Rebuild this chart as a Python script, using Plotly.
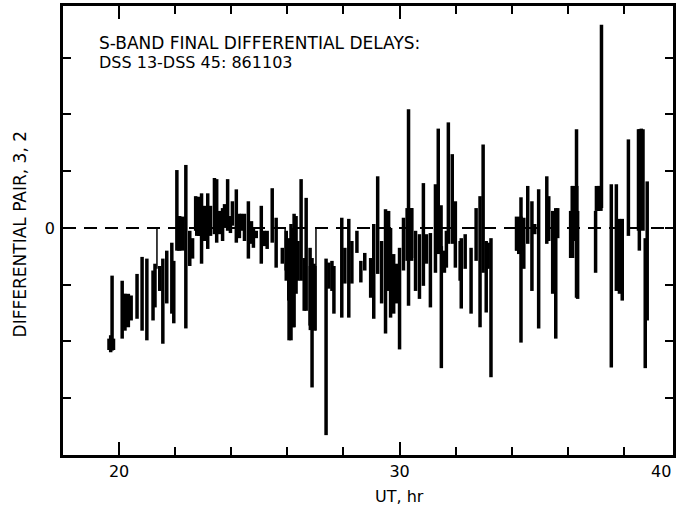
import plotly.graph_objects as go

# ---- data (UT hours, lower / upper end of each differential-delay bar) ----
ut = [19.75, 19.70, 20.11, 20.21, 20.32, 20.43, 20.64, 20.82, 20.99, 21.21,
      21.28, 21.45, 21.56, 21.70, 21.88, 21.95, 22.06, 22.16, 22.23, 22.38,
      22.52, 22.62, 22.73, 22.84, 22.94, 23.05, 23.16, 23.26, 23.40, 23.48,
      23.58, 23.69, 23.76, 23.87, 23.97, 24.04, 24.18, 24.29, 24.36, 24.47,
      24.61, 24.72, 24.79, 24.89, 25.07, 25.18, 25.28, 25.46, 25.60, 25.82,
      25.96, 26.06, 26.13, 26.21, 26.24, 26.31, 26.38, 26.49, 26.60, 26.67,
      26.81, 26.88, 26.95, 27.38, 27.48, 27.59, 27.66, 27.94, 28.05, 28.19,
      28.30, 28.48, 28.62, 28.76, 28.97, 29.08, 29.22, 29.36, 29.50, 29.61,
      29.68, 29.79, 29.89, 30.00, 30.14, 30.32, 30.43, 30.57, 30.71, 30.85,
      30.96, 31.10, 31.28, 31.38, 31.49, 31.60, 31.67, 31.74, 31.88, 31.99,
      32.16, 32.20, 32.34, 32.55, 32.73, 32.87, 32.98, 33.09, 33.16, 33.26,
      34.18, 34.25, 34.33, 34.43, 34.57, 34.72, 34.82, 34.96, 35.25, 35.32,
      35.46, 35.57, 35.64, 36.10, 36.17, 36.24, 36.31, 36.35, 36.99, 37.09,
      37.20, 37.55, 37.73, 37.84, 37.94, 38.16, 38.55, 38.62, 38.76, 38.83]
hi = [-0.84, -1.89, -0.93, -1.16, -1.28, -1.19, -0.81, -0.51, -0.54, -0.75,
      -0.63, -0.67, -0.54, -0.40, -0.26, -0.58, 1.02, 0.21, 0.07, 1.11,
      -0.05, -0.18, 0.56, 0.47, 0.61, 0.39, 0.61, 0.39, 0.88, 0.86,
      0.30, 0.35, 0.42, 0.86, 0.21, 0.47, 0.68, 0.25, 0.25, 0.25,
      0.47, 0.12, 0.00, -0.05, 0.39, -0.05, -0.05, 0.70, 0.18, -0.35,
      -0.05, -0.18, 0.07, 0.00, 0.25, 0.21, -0.23, 0.86, -0.53, 0.53,
      -0.35, -0.53, -0.63, -0.54, -0.61, -0.58, -0.67, 0.18, -0.35, 0.16,
      -0.23, -0.05, -0.58, -0.44, -0.53, 0.07, 0.91, -0.23, 0.33, 0.30,
      0.00, -0.46, -0.63, -0.35, 0.18, 2.09, 0.35, -0.05, -0.11, 0.79,
      -0.11, -0.09, 0.77, 1.75, -0.32, -0.40, -0.05, 1.86, 1.30, 0.47,
      -0.23, -0.18, -0.11, -0.35, 0.35, 0.56, 1.47, -0.23, -0.26, -0.18,
      0.18, 0.12, 0.54, 0.18, 0.74, 0.47, 0.07, 0.68, 0.91, 0.56,
      0.30, 0.35, 0.35, 0.30, 0.74, 0.65, 1.74, 0.30, 0.30, 0.74,
      3.58, 0.77, 0.77, 0.16, 0.16, 1.56, 1.74, 1.75, -0.18, 0.82]
lo = [-2.16, -2.19, -1.95, -1.81, -1.72, -1.63, -1.60, -1.81, -1.98, -1.63,
      -1.40, -1.11, -2.04, -1.33, -1.51, -1.68, -0.40, -0.40, -0.35, -1.77,
      -0.67, -0.54, -0.05, -0.14, -0.63, -0.23, -0.37, -0.14, -0.11, -0.26,
      -0.11, -0.23, 0.00, -0.05, -0.09, 0.04, -0.26, -0.18, -0.05, -0.23,
      -0.54, -0.28, -0.35, -0.18, -0.63, -0.32, -0.37, -0.26, -0.70, -0.63,
      -0.93, -1.98, -1.98, -1.75, -1.75, -1.16, -0.93, -0.93, -1.46, -1.46,
      -1.72, -2.81, -1.81, -3.65, -1.07, -1.11, -1.51, -1.58, -0.98, -1.58,
      -0.98, -0.44, -0.96, -0.75, -1.23, -1.60, -0.81, -1.33, -1.86, -1.11,
      -1.58, -1.51, -1.33, -2.14, -0.75, -1.37, -0.53, -1.11, -1.25, -1.02,
      -0.63, -1.40, -0.79, -0.46, -2.47, -0.79, -0.70, -0.28, -0.28, -0.70,
      -0.93, -1.42, -0.72, -1.51, -0.58, -1.75, -0.79, -1.49, -0.72, -2.63,
      -0.40, -0.46, -2.02, -0.72, -0.28, -1.11, -0.11, -1.77, -0.28, -0.23,
      -1.16, -1.95, -0.18, -0.53, -0.53, -0.23, -1.23, -1.25, -0.79, 0.30,
      0.35, -2.46, -1.11, -1.16, -1.28, -0.14, -0.40, 0.00, -2.47, -1.63]

# dense clusters of overlapping points (drawn heavier)
core_ut = [19.72, 20.25, 22.20, 22.85, 26.13, 26.90, 30.35, 31.40, 34.25, 36.24, 37.10, 38.60]
core_hi = [-1.95, -1.16, 0.20, 0.55, -0.23, -0.67, 0.35, 0.40, 0.20, 0.74, 0.74, 1.74]
core_lo = [-2.15, -1.75, -0.40, -0.14, -1.28, -1.80, -0.58, -0.45, -0.40, -0.23, 0.30, -0.05]

# thin capped bars
thin_ut = [21.35, 25.92, 27.02]
thin_hi = [0.00, 0.00, 0.00]
thin_lo = [-0.72, -0.75, -1.81]

x_ticks = [20, 30]
x_minor = 2
y_ticks = [-3, -2, -1, 0, 1, 2, 3]
y_ticktext = ["", "", "", "0", "", "", ""]


def segs(xs, los, his):
    X, Y = [], []
    for x, a, b in zip(xs, los, his):
        X += [x, x, None]
        Y += [a, b, None]
    return X, Y


fig = go.Figure()
bx, by = segs(ut, lo, hi)
fig.add_trace(go.Scatter(x=bx, y=by, mode="lines", line=dict(color="black", width=3.5),
                         hoverinfo="skip", showlegend=False))
cx, cy = segs(core_ut, core_lo, core_hi)
fig.add_trace(go.Scatter(x=cx, y=cy, mode="lines", line=dict(color="black", width=8),
                         hoverinfo="skip", showlegend=False))
tx, ty = segs(thin_ut, thin_lo, thin_hi)
fig.add_trace(go.Scatter(x=tx, y=ty, mode="lines", line=dict(color="black", width=1.5),
                         hoverinfo="skip", showlegend=False))

# zero reference line
fig.add_shape(type="line", xref="paper", x0=0, x1=1, yref="y", y0=0, y1=0,
              line=dict(color="black", width=2, dash="13px,8px"), layer="below")

font = "DejaVu Sans, Verdana, sans-serif"
fig.update_layout(
    width=679, height=516,
    margin=dict(l=63, r=3, t=4, b=61),
    paper_bgcolor="white", plot_bgcolor="white",
    font=dict(family=font, color="black", size=16),
    showlegend=False,
)
fig.update_xaxes(
    range=[18.0, 39.75], showgrid=False, zeroline=False,
    showline=True, linecolor="black", linewidth=2.5, mirror="ticks",
    ticks="inside", ticklen=13, tickwidth=2, tickcolor="black",
    tickvals=x_ticks, tickfont=dict(size=16, family=font),
    minor=dict(dtick=x_minor, tick0=0, ticks="inside", ticklen=8, tickwidth=2,
               tickcolor="black", showgrid=False),
)
fig.update_yaxes(
    range=[-4.0, 3.91], showgrid=False, zeroline=False,
    showline=True, linecolor="black", linewidth=2.5, mirror="ticks",
    ticks="inside", ticklen=8, tickwidth=2, tickcolor="black",
    tickvals=y_ticks, ticktext=y_ticktext, tickfont=dict(size=16, family=font),
    ticklabelstandoff=2,
)

fig.add_annotation(text="40", xref="paper", yref="paper", x=1.0, y=-0.012,
                   xanchor="right", yanchor="top", showarrow=False,
                   font=dict(size=16, family=font))
fig.add_annotation(text="UT, hr", xref="x", yref="paper", x=30, y=-0.093,
                   xanchor="center", yanchor="middle", showarrow=False,
                   font=dict(size=16, family=font))
fig.add_annotation(text="DIFFERENTIAL PAIR, 3, 2", xref="paper", yref="paper",
                   x=-0.070, y=0.492, textangle=-90, xanchor="center", yanchor="middle",
                   showarrow=False, font=dict(size=17, family=font))
fig.add_annotation(text="S-BAND FINAL DIFFERENTIAL DELAYS:", xref="paper", yref="paper",
                   x=0.0555, y=0.918, xanchor="left", yanchor="middle", showarrow=False,
                   font=dict(size=17, family=font))
fig.add_annotation(text="DSS 13-DSS 45: 861103", xref="paper", yref="paper",
                   x=0.0555, y=0.874, xanchor="left", yanchor="middle", showarrow=False,
                   font=dict(size=16, family=font))

fig.write_html("out.html", config={"displayModeBar": False},
               post_script="document.body.style.margin='0';document.body.style.overflow='hidden';")
